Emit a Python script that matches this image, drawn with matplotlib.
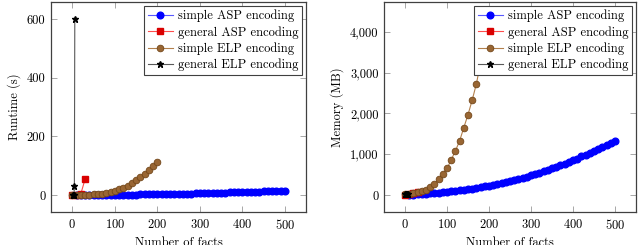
import matplotlib
matplotlib.use("Agg")
import matplotlib.pyplot as plt
from matplotlib.ticker import FuncFormatter, FixedLocator

plt.rcParams['font.family'] = ['cmr10', 'DejaVu Serif']
plt.rcParams['mathtext.fontset'] = 'cm'
plt.rcParams['axes.formatter.use_mathtext'] = True

# ---- data ----
asp_x = list(range(10, 501, 10))
asp_runtime = [0.0, 0.1, 0.1, 0.2, 0.2, 0.3, 0.4, 0.5, 0.6, 0.7,
               0.8, 1.0, 1.1, 1.3, 1.5, 1.7, 1.9, 2.1, 2.3, 2.6,
               2.8, 3.1, 3.4, 3.7, 4.0, 4.3, 4.6, 5.0, 5.3, 5.7,
               6.1, 6.5, 6.9, 7.3, 7.7, 8.1, 8.5, 9.0, 9.4, 9.9,
               10.3, 10.8, 11.3, 11.8, 12.3, 12.8, 13.3, 13.8, 14.3, 14.8]
asp_memory = [5, 10, 15, 25, 30, 40, 50, 60, 70, 80,
              90, 100, 115, 125, 140, 155, 170, 190, 210, 230,
              250, 270, 295, 320, 345, 365, 390, 420, 450, 490,
              520, 550, 580, 615, 650, 690, 730, 770, 810, 850,
              885, 950, 990, 1030, 1070, 1120, 1170, 1220, 1270, 1320]

gasp_x = [0, 10, 20, 30]
gasp_runtime = [0.1, 0.5, 3, 53]
gasp_memory = [10, 30, 50, 85]

elp_x = list(range(0, 201, 10))
elp_runtime = [0, 0.1, 0.2, 0.5, 1, 2, 3, 5, 7, 10, 14, 19, 25, 32, 40, 50, 61, 73, 85, 100, 113]
elp_memory = [25, 35, 50, 70, 95, 122, 187, 268, 382, 520, 650, 862, 1081, 1325, 1650,
              1967, 2325, 2724, 3244, 3760, 4290]

gelp_x = [1, 2, 3, 4, 5, 6]
gelp_runtime = [0, 0, 0, 0.5, 30, 600]
gelp_memory = [20, 22, 24, 26, 28, 30]

labels = ["simple ASP encoding", "general ASP encoding", "simple ELP encoding", "general ELP encoding"]
xticks = [0, 100, 200, 300, 400, 500]
runtime_ticks = [0, 200, 400, 600]
memory_ticks = [0, 1000, 2000, 3000, 4000]

brown = (0.6, 0.4, 0.2)
FS = 9

fig = plt.figure(figsize=(6.4, 2.45), dpi=100)
ax1 = fig.add_axes([51/640, 1-212/245, 255/640, 210/245])
ax2 = fig.add_axes([384/640, 1-212/245, 252/640, 210/245])


def draw(ax, ys, ylim, yticks, ylabel, fmt):
    ax.plot(asp_x, ys[0], color=(0.35, 0.35, 1.0), lw=0.8, marker='o', ms=4.8, mec='blue', mfc='blue', label=labels[0])
    ax.plot(gasp_x, ys[1], color=(1.0, 0.3, 0.3), lw=0.8, marker='s', ms=4.6, mec=(0.85, 0, 0), mfc=(0.85, 0, 0), label=labels[1])
    ax.plot(elp_x, ys[2], color=(0.7, 0.5, 0.3), lw=0.8, marker='o', ms=4.8, mec=(0.45, 0.28, 0.1), mew=0.6, mfc=brown, label=labels[2])
    ax.plot(gelp_x, ys[3], color='0.35', lw=0.8, marker='*', ms=5, mec='black', mfc='black', label=labels[3])
    ax.set_xlim(-50, 550)
    ax.set_ylim(*ylim)
    ax.xaxis.set_major_locator(FixedLocator(xticks))
    ax.yaxis.set_major_locator(FixedLocator(yticks))
    ax.yaxis.set_major_formatter(FuncFormatter(fmt))
    ax.tick_params(direction='in', length=4, width=0.6, color='0.6', labelsize=FS,
                   top=True, right=True, pad=4)
    for s in ax.spines.values():
        s.set_linewidth(0.9)
        s.set_color('0.25')
    ax.set_xlabel("Number of facts", fontsize=FS, labelpad=4)
    ax.set_ylabel(ylabel, fontsize=FS, labelpad=4)
    leg = ax.legend(loc='upper right', fontsize=FS, frameon=True, fancybox=False,
                    edgecolor='0.25', framealpha=1, borderaxespad=0.3,
                    handlelength=2.0, handletextpad=0.4, labelspacing=0.3,
                    borderpad=0.3)
    leg.get_frame().set_linewidth(0.8)


draw(ax1, [asp_runtime, gasp_runtime, elp_runtime, gelp_runtime], (-58, 658),
     runtime_ticks, "Runtime (s)", lambda v, p: f"{int(v)}")
draw(ax2, [asp_memory, gasp_memory, elp_memory, gelp_memory], (-416, 4727),
     memory_ticks, "Memory (MB)", lambda v, p: f"{int(v):,}")

fig.savefig("out.png", dpi=100)
